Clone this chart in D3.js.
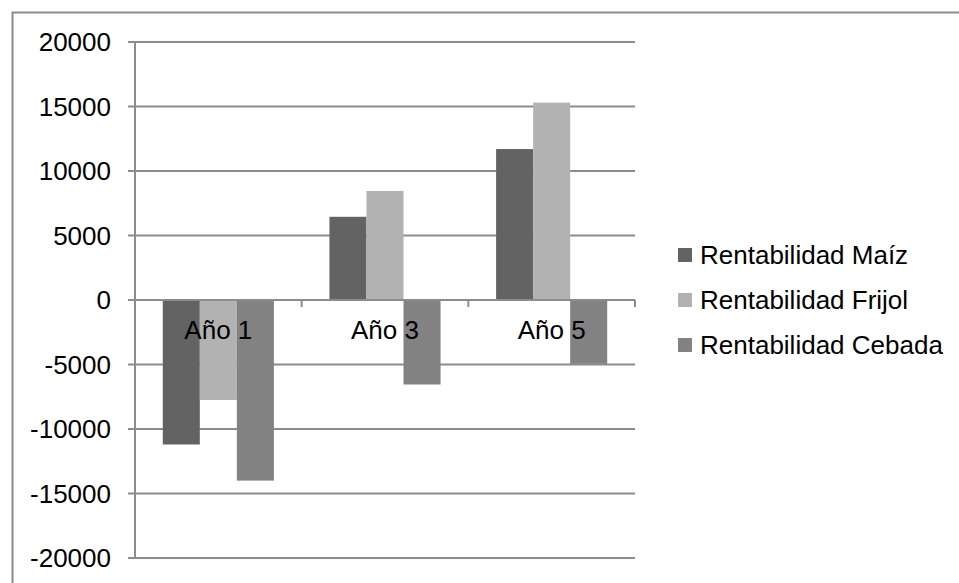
<!DOCTYPE html>
<html>
<head>
<meta charset="utf-8">
<script src="https://cdn.jsdelivr.net/npm/d3@7"></script>
<style>
  html, body { margin: 0; padding: 0; background: #fff; }
  svg { display: block; font-family: "Liberation Sans", Arial, sans-serif; }
</style>
</head>
<body>
<svg id="chart" width="959" height="583"></svg>
<script>
// Profitability per crop over the years
const categories = ["Año 1", "Año 3", "Año 5"];
const seriesNames = ["Rentabilidad Maíz", "Rentabilidad Frijol", "Rentabilidad Cebada"];
const maiz   = [-11200, 6450, 11700];
const frijol = [-7750, 8450, 15300];
const cebada = [-14000, -6550, -4950];
const yTicks = [20000, 15000, 10000, 5000, 0, -5000, -10000, -15000, -20000];
const seriesColors = ["#636363", "#b2b2b2", "#828282"];

const seriesValues = [maiz, frijol, cebada];

const svg = d3.select("#chart");
const W = 959, H = 583;
const plot = { left: 135, right: 635, top: 42, bottom: 558 };
const gridColor = "#8c8c8c";
const fontSize = 26;

// Outer chart frame (top and left edges visible within the window)
svg.append("rect")
  .attr("x", 12.5).attr("y", 12.5)
  .attr("width", W + 20).attr("height", H + 20)
  .attr("fill", "#fff")
  .attr("stroke", gridColor).attr("stroke-width", 2);

const y = d3.scaleLinear().domain([-20000, 20000]).range([plot.bottom, plot.top]);
const x0 = d3.scaleBand().domain(categories).range([plot.left, plot.right]);
const x1 = d3.scaleBand().domain(seriesNames)
  .range([0, x0.bandwidth()])
  .paddingOuter(0.75).paddingInner(0);

// Horizontal gridlines
svg.append("g").selectAll("line").data(yTicks).join("line")
  .attr("x1", plot.left - 7).attr("x2", plot.right)
  .attr("y1", d => y(d)).attr("y2", d => y(d))
  .attr("stroke", gridColor).attr("stroke-width", 2);

// Bars
const groups = svg.append("g").selectAll("g").data(categories).join("g")
  .attr("transform", c => `translate(${x0(c)},0)`);

groups.selectAll("rect")
  .data((c, i) => seriesNames.map((s, k) => ({ s, k, v: seriesValues[k][i] })))
  .join("rect")
  .attr("x", d => x1(d.s))
  .attr("width", x1.bandwidth())
  .attr("y", d => y(Math.max(0, d.v)))
  .attr("height", d => Math.abs(y(d.v) - y(0)))
  .attr("fill", d => seriesColors[d.k]);

// Vertical axis line
svg.append("line")
  .attr("x1", plot.left).attr("x2", plot.left)
  .attr("y1", plot.top).attr("y2", plot.bottom + 1)
  .attr("stroke", gridColor).attr("stroke-width", 2);

// Zero axis with category tick marks
svg.append("line")
  .attr("x1", plot.left).attr("x2", plot.right)
  .attr("y1", y(0)).attr("y2", y(0))
  .attr("stroke", gridColor).attr("stroke-width", 2);
const catEdges = categories.map(c => x0(c) + x0.bandwidth());
svg.append("g").selectAll("line").data(catEdges).join("line")
  .attr("x1", d => d).attr("x2", d => d)
  .attr("y1", y(0)).attr("y2", y(0) + 7)
  .attr("stroke", gridColor).attr("stroke-width", 2);

// Y tick labels
svg.append("g").selectAll("text").data(yTicks).join("text")
  .attr("x", plot.left - 24)
  .attr("y", d => y(d))
  .attr("dy", "0.35em")
  .attr("text-anchor", "end")
  .attr("font-size", fontSize)
  .attr("fill", "#000")
  .text(d => d);

// Category labels just below the zero axis
svg.append("g").selectAll("text").data(categories).join("text")
  .attr("x", c => x0(c) + x0.bandwidth() / 2)
  .attr("y", y(0) + 39)
  .attr("text-anchor", "middle")
  .attr("font-size", fontSize)
  .attr("fill", "#000")
  .text(c => c);

// Legend
const legend = svg.append("g").selectAll("g").data(seriesNames).join("g")
  .attr("transform", (s, i) => `translate(678,${255 + i * 45})`);
legend.append("rect")
  .attr("x", 0).attr("y", -7)
  .attr("width", 14).attr("height", 14)
  .attr("fill", (s, i) => seriesColors[i]);
legend.append("text")
  .attr("x", 22).attr("y", 0)
  .attr("dy", "0.35em")
  .attr("font-size", fontSize)
  .attr("fill", "#000")
  .text(s => s);
</script>
</body>
</html>
